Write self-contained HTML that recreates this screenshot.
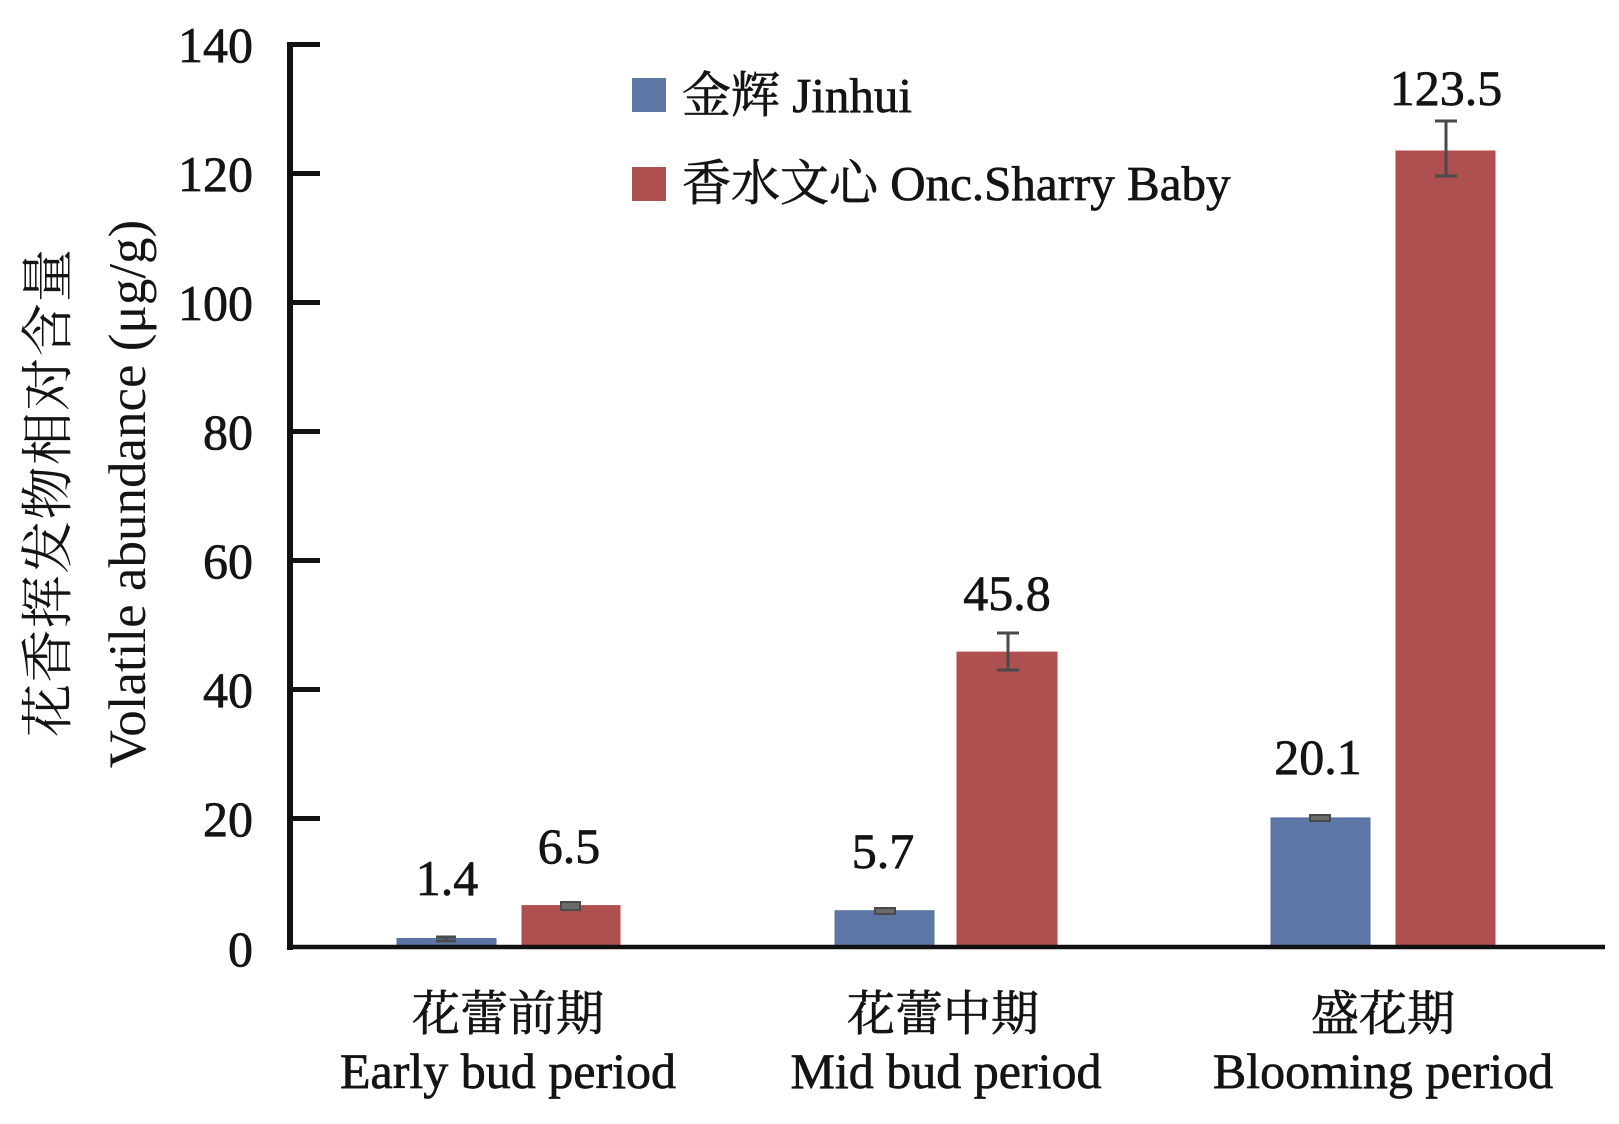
<!DOCTYPE html>
<html>
<head>
<meta charset="utf-8">
<style>
  html, body { margin: 0; padding: 0; background: #ffffff; }
  svg { display: block; }
  .t { font-family: "Liberation Serif", "Noto Serif CJK SC", serif; fill: #141414; }
  .c { font-family: "Liberation Serif", "Noto Serif CJK SC", "Noto Sans CJK SC", serif; fill: #141414; }
  .w { stroke: #141414; stroke-width: 0.7; }
</style>
</head>
<body>
<svg width="1619" height="1124" viewBox="0 0 1619 1124" xmlns="http://www.w3.org/2000/svg">
  <rect x="0" y="0" width="1619" height="1124" fill="#ffffff"/>

  <!-- Y axis title -->
  <text class="c" font-size="53" text-anchor="middle" transform="translate(66,493) rotate(-90)" textLength="488">花香挥发物相对含量</text>
  <text class="t" font-size="53" text-anchor="middle" transform="translate(145,494) rotate(-90)">Volatile abundance (μg/g)</text>

  <!-- Y tick labels -->
  <g class="t w" font-size="50" text-anchor="end">
    <text x="253" y="62">140</text>
    <text x="253" y="191">120</text>
    <text x="253" y="320">100</text>
    <text x="253" y="449">80</text>
    <text x="253" y="578">60</text>
    <text x="253" y="707">40</text>
    <text x="253" y="836">20</text>
    <text x="253" y="966">0</text>
  </g>

  <!-- Bars -->
  <g>
    <rect x="397" y="938.5" width="99" height="8" fill="#5e76a5" stroke="#5570a8" stroke-width="1"/>
    <rect x="522" y="905.6" width="98" height="41" fill="#ae4f50" stroke="#bb4a4a" stroke-width="1"/>
    <rect x="835" y="910.7" width="99" height="36" fill="#5e76a5" stroke="#5570a8" stroke-width="1"/>
    <rect x="957" y="652.1" width="100" height="295" fill="#ae4f50" stroke="#bb4a4a" stroke-width="1"/>
    <rect x="1271" y="817.9" width="99" height="129" fill="#5e76a5" stroke="#5570a8" stroke-width="1"/>
    <rect x="1396" y="151" width="99" height="796" fill="#ae4f50" stroke="#bb4a4a" stroke-width="1"/>
  </g>

  <!-- Error bars -->
  <g stroke="#4a4a4a" stroke-width="3" fill="none">
    <line x1="446" y1="937" x2="446" y2="941"/>
    <line x1="436" y1="937" x2="456" y2="937"/>
    <line x1="436" y1="941" x2="456" y2="941"/>
    <rect x="561" y="902" width="19" height="8" fill="#6a6a6a" stroke-width="2"/>
    <rect x="875" y="908" width="20" height="6" fill="#6a6a6a" stroke-width="2"/>
    <line x1="1008" y1="633" x2="1008" y2="670"/>
    <line x1="997" y1="633" x2="1019" y2="633"/>
    <line x1="997" y1="670" x2="1019" y2="670"/>
    <rect x="1310" y="815" width="20" height="6" fill="#6a6a6a" stroke-width="2"/>
    <line x1="1446" y1="121" x2="1446" y2="176"/>
    <line x1="1435" y1="121" x2="1457" y2="121"/>
    <line x1="1435" y1="176" x2="1457" y2="176"/>
  </g>

  <!-- Value labels -->
  <g class="t w" font-size="50" text-anchor="middle">
    <text x="447" y="895">1.4</text>
    <text x="569" y="863">6.5</text>
    <text x="883" y="868">5.7</text>
    <text x="1007" y="610">45.8</text>
    <text x="1318" y="774">20.1</text>
    <text x="1446" y="105">123.5</text>
  </g>

  <!-- Axes -->
  <line x1="290" y1="42" x2="290" y2="950" stroke="#111" stroke-width="6"/>
  <line x1="287" y1="947" x2="1605" y2="947" stroke="#111" stroke-width="4.5"/>
  <g stroke="#111" stroke-width="5">
    <line x1="290" y1="44.5" x2="320" y2="44.5"/>
    <line x1="290" y1="173.5" x2="320" y2="173.5"/>
    <line x1="290" y1="302.5" x2="320" y2="302.5"/>
    <line x1="290" y1="431.5" x2="320" y2="431.5"/>
    <line x1="290" y1="560.5" x2="320" y2="560.5"/>
    <line x1="290" y1="689.5" x2="320" y2="689.5"/>
    <line x1="290" y1="818.5" x2="320" y2="818.5"/>
  </g>

  <!-- Category labels -->
  <g class="c w" font-size="48" text-anchor="middle">
    <text x="508" y="1030">花蕾前期</text>
    <text x="943" y="1030">花蕾中期</text>
    <text x="1383" y="1030">盛花期</text>
  </g>
  <g class="t w" font-size="50" text-anchor="middle">
    <text x="508" y="1088">Early bud period</text>
    <text x="946" y="1088">Mid bud period</text>
    <text x="1383" y="1088">Blooming period</text>
  </g>

  <!-- Legend -->
  <rect x="632" y="78" width="34" height="34" fill="#5e76a5"/>
  <rect x="632" y="167" width="34" height="34" fill="#ae4f50"/>
  <text class="c w" font-size="49" x="682" y="112">金辉 Jinhui</text>
  <text class="c w" font-size="49" x="682" y="200">香水文心 Onc.Sharry Baby</text>
</svg>
</body>
</html>
